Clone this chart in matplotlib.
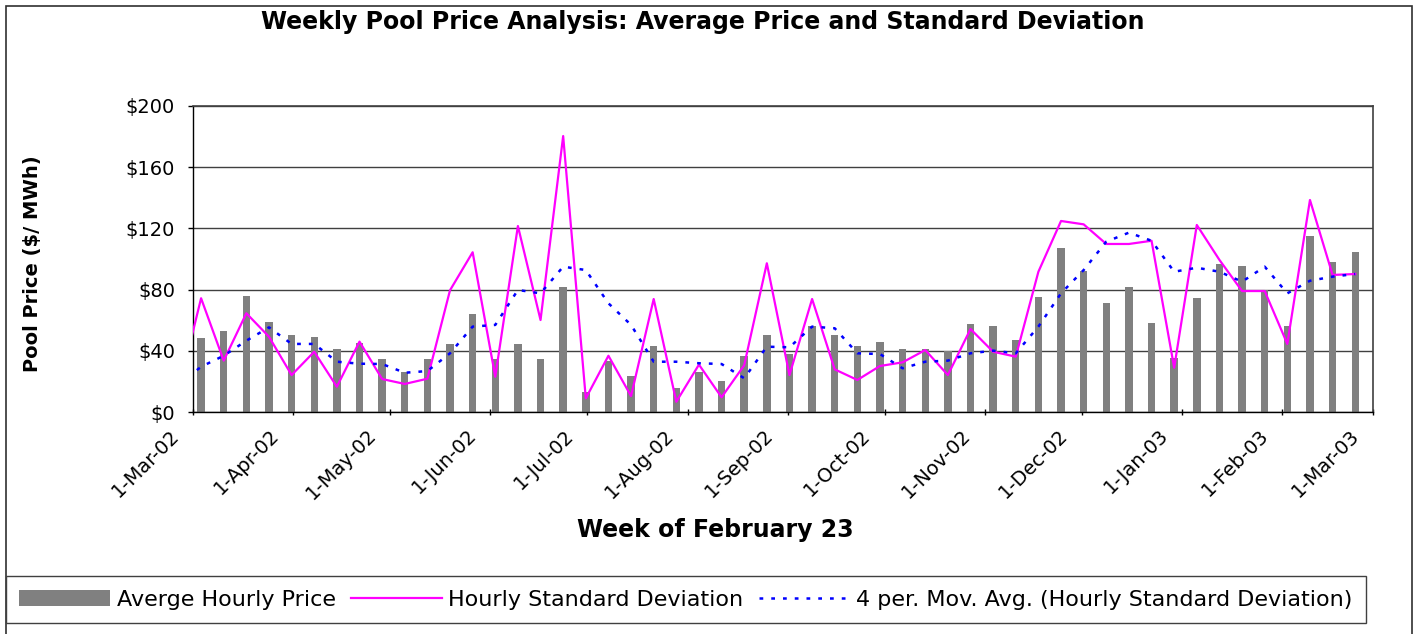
import datetime
import matplotlib
matplotlib.use('Agg')
import matplotlib.pyplot as plt
import matplotlib.dates as mdates
from matplotlib.patches import Rectangle, Patch
from matplotlib.lines import Line2D
from matplotlib.ticker import FuncFormatter
from matplotlib.transforms import ScaledTranslation
import pandas as pd

# weekly data, first week (24-Feb-02) only feeds the lines coming in from the left
weeks = pd.date_range('2002-02-24', periods=53, freq='7D')

avg_price = [48.3, 52.8, 76.1, 58.7, 50.6, 49.3, 41.3, 45.2, 34.6, 26.1, 34.6, 44.8, 64.3,
             34.6, 44.8, 34.6, 81.7, 13.4, 33.5, 23.9, 43.5, 15.6, 26.1, 20.4, 36.5,
             50.4, 37.8, 56.3, 50.4, 43.5, 45.9, 41.3, 41.3, 40.0, 57.4, 56.3, 47.0, 75.0,
             107.2, 92.2, 71.3, 81.7, 58.5, 35.2, 74.8, 96.7, 95.6, 79.6, 56.1, 115.2, 97.8, 104.8]

hourly_sd = [14.0,
             74.4, 33.7, 64.6, 49.3, 24.3, 39.5, 16.7, 46.1, 21.7, 18.5, 21.9, 79.6, 104.4,
             23.2, 121.5, 60.2, 180.2, 9.1, 36.9, 10.6, 73.9, 6.9, 31.1, 9.8, 30.7,
             97.2, 24.3, 73.9, 28.0, 21.1, 30.2, 32.6, 40.6, 24.3, 54.3, 39.5, 36.3, 91.7,
             124.8, 122.6, 109.8, 109.8, 111.9, 29.1, 122.2, 99.4, 79.1, 79.1, 44.6, 138.5, 89.6, 90.2]

mov_avg = [18.0,
           29.7, 36.9, 46.7, 55.4, 44.6, 44.6, 33.0, 31.7, 31.5, 25.8, 26.9, 38.5, 55.9,
           57.0, 79.8, 77.6, 95.0, 92.8, 71.1, 57.0, 33.0, 33.0, 32.0, 31.5, 22.2,
           42.8, 42.4, 55.9, 54.8, 38.5, 38.0, 28.7, 33.0, 33.7, 38.5, 40.2, 38.5, 55.9,
           77.6, 92.8, 111.3, 117.2, 111.9, 91.7, 94.3, 91.7, 85.2, 95.0, 77.6, 85.8, 88.5, 90.2]

legend_labels = ['Averge Hourly Price', 'Hourly Standard Deviation',
                 '4 per. Mov. Avg. (Hourly Standard Deviation)']

plt.rcParams['font.family'] = ['DejaVu Sans']

W, H = 1418, 634
fig = plt.figure(figsize=(W / 100, H / 100), dpi=100)
ax = fig.add_axes([193 / W, 1 - 412.3 / H, 1180 / W, 306.6 / H])

# excel date axis puts each point in the middle of its day
x_line = weeks + pd.Timedelta(hours=12)
x_bar = x_line[1:]

ax.bar(x_bar, avg_price, width=2.3, color='#808080', zorder=2)
ax.plot(x_line, hourly_sd, color='#FF00FF', lw=1.6, zorder=3)
ax.plot(x_line, mov_avg, color='#0000FF', lw=1.8, dashes=(1.5, 3.2), zorder=4)

ax.set_xlim(datetime.date(2002, 3, 1), datetime.date(2003, 3, 1))
ax.set_ylim(0, 200)
ax.set_yticks(range(0, 201, 40))
ax.yaxis.set_major_formatter(FuncFormatter(lambda v, p: '${:.0f}'.format(v)))
ax.yaxis.grid(True, color='#404040', lw=1.0)
ax.set_axisbelow(True)

ax.xaxis.set_major_locator(mdates.MonthLocator())
ax.xaxis.set_major_formatter(mdates.DateFormatter('1-%b-%y'))

ax.tick_params(axis='y', direction='out', length=3.6, width=1, pad=9.4, labelsize=14)
ax.tick_params(axis='x', direction='inout', length=5, width=1, pad=11.9, labelsize=14)

for sp in ['left', 'bottom']:
    ax.spines[sp].set_color('black')
    ax.spines[sp].set_linewidth(1.0)
for sp in ['top', 'right']:
    ax.spines[sp].set_color('#404040')
    ax.spines[sp].set_linewidth(1.2)

shift = ScaledTranslation(-17 / 100, 0, fig.dpi_scale_trans)
for lab in ax.get_xticklabels():
    lab.set_rotation(45)
    lab.set_ha('right')
    lab.set_va('center')
    lab.set_rotation_mode('anchor')
    lab.set_transform(lab.get_transform() + shift)

fig.text(703 / W, 1 - 22 / H, 'Weekly Pool Price Analysis: Average Price and Standard Deviation',
         ha='center', va='center', fontsize=17, fontweight='bold')
fig.text(33 / W, 1 - 263.5 / H, 'Pool Price ($/ MWh)', rotation=90,
         ha='center', va='center', fontsize=14, fontweight='bold')
fig.text(715.5 / W, 1 - 530 / H, 'Week of February 23',
         ha='center', va='center', fontsize=17, fontweight='bold')

# outer chart frame
fig.add_artist(Rectangle((5.5 / W, -0.01), 1406 / W, (H - 5.5) / H + 0.01,
                         transform=fig.transFigure, fill=False, ec='#303030', lw=1.2))

handles = [Patch(facecolor='#808080', edgecolor='none'),
           Line2D([], [], color='#FF00FF', lw=1.6),
           Line2D([], [], color='#0000FF', lw=1.8, dashes=(1.5, 3.2))]
leg = fig.legend(handles, legend_labels, loc='center',
                 bbox_to_anchor=(5.5 / W, 7 / H, (1366 - 5.5) / W, 55 / H),
                 mode='expand', ncol=3, fontsize=16, handlelength=4.1,
                 handletextpad=0.3, columnspacing=0.6, borderpad=0.6,
                 fancybox=False, edgecolor='#404040', framealpha=1, borderaxespad=0)
leg.get_frame().set_linewidth(1.0)

fig.savefig('out.png', dpi=100)
